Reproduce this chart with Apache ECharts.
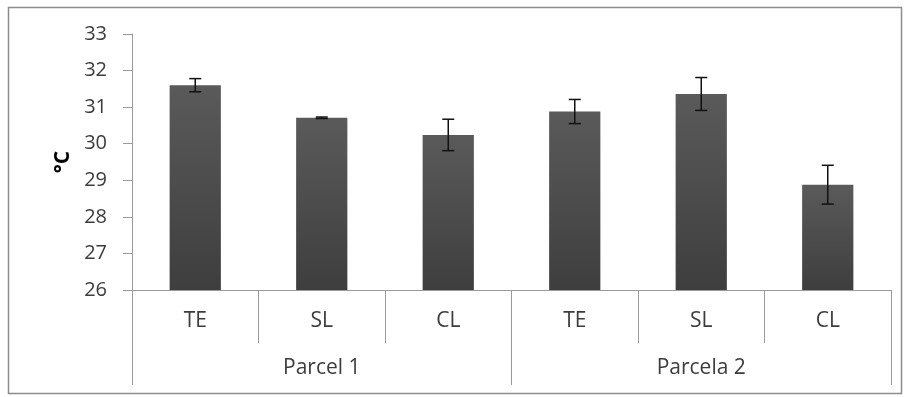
<!DOCTYPE html>
<html>
<head>
<meta charset="utf-8">
<script src="https://cdn.jsdelivr.net/npm/echarts@6/dist/echarts.min.js"></script>
<style>
  html, body { margin: 0; padding: 0; background: #fff; }
  #chart { width: 909px; height: 397px; }
</style>
</head>
<body>
<div id="chart"></div>
<script>
// Treatments per plot and the two plots they belong to
const treatments = ['TE', 'SL', 'CL', 'TE', 'SL', 'CL'];
const plots = ['Parcel 1', 'Parcela 2'];
// Mean temperature (°C) and its error (±)
const meanTemp = [31.6, 30.71, 30.24, 30.88, 31.36, 28.88];
const errTemp = [0.18, 0.02, 0.43, 0.33, 0.45, 0.53];
const yTicks = [26, 27, 28, 29, 30, 31, 32, 33];

const FONT = '"Open Sans", "Liberation Sans", sans-serif';
const TEXT = '#3c3c3c';
const AXIS = '#9a9a9a';

const chart = echarts.init(document.getElementById('chart'));

const errData = meanTemp.map((v, i) => [i, v - errTemp[i], v + errTemp[i]]);

chart.setOption({
  animation: false,
  graphic: [{
    type: 'rect',
    shape: { x: 8.5, y: 7.5, width: 893, height: 386 },
    style: { fill: 'none', stroke: '#8c8c8c', lineWidth: 1.5 },
    silent: true
  }],
  grid: { left: 132, right: 18, top: 34, bottom: 107, containLabel: false },
  xAxis: [{
    type: 'category',
    data: treatments,
    position: 'bottom',
    axisLine: { show: true, lineStyle: { color: AXIS, width: 1 } },
    axisTick: { show: true, length: 53, alignWithLabel: false, lineStyle: { color: AXIS } },
    axisLabel: { color: TEXT, fontFamily: FONT, fontSize: 21, margin: 21 }
  }, {
    type: 'category',
    data: plots,
    position: 'bottom',
    axisLine: { show: false },
    axisTick: { show: true, length: 95, alignWithLabel: false, lineStyle: { color: AXIS } },
    axisLabel: { color: TEXT, fontFamily: FONT, fontSize: 21, margin: 68 }
  }],
  yAxis: {
    type: 'value',
    min: yTicks[0],
    max: yTicks[yTicks.length - 1],
    interval: 1,
    name: '°C',
    nameLocation: 'middle',
    nameGap: 58,
    nameRotate: 90,
    nameTextStyle: { color: '#000', fontFamily: FONT, fontSize: 21, fontWeight: 'bold' },
    axisLine: { show: true, lineStyle: { color: AXIS, width: 1 } },
    axisTick: { show: true, length: 9, lineStyle: { color: AXIS } },
    splitLine: { show: false },
    axisLabel: { color: TEXT, fontFamily: FONT, fontSize: 20, margin: 25 }
  },
  series: [{
    type: 'bar',
    xAxisIndex: 0,
    data: meanTemp,
    barWidth: '40.5%',
    itemStyle: {
      color: new echarts.graphic.LinearGradient(0, 0, 0, 1, [
        { offset: 0, color: '#5a5a5a' },
        { offset: 1, color: '#3e3e3e' }
      ])
    }
  }, {
    type: 'custom',
    xAxisIndex: 0,
    data: errData,
    z: 10,
    renderItem: function (params, api) {
      const x = api.value(0);
      const lo = api.coord([x, api.value(1)]);
      const hi = api.coord([x, api.value(2)]);
      const half = 6;
      const style = { stroke: '#111', lineWidth: 1.5 };
      return {
        type: 'group',
        children: [
          { type: 'line', shape: { x1: hi[0], y1: hi[1], x2: lo[0], y2: lo[1] }, style },
          { type: 'line', shape: { x1: hi[0] - half, y1: hi[1], x2: hi[0] + half, y2: hi[1] }, style },
          { type: 'line', shape: { x1: lo[0] - half, y1: lo[1], x2: lo[0] + half, y2: lo[1] }, style }
        ]
      };
    }
  }]
});
</script>
</body>
</html>
